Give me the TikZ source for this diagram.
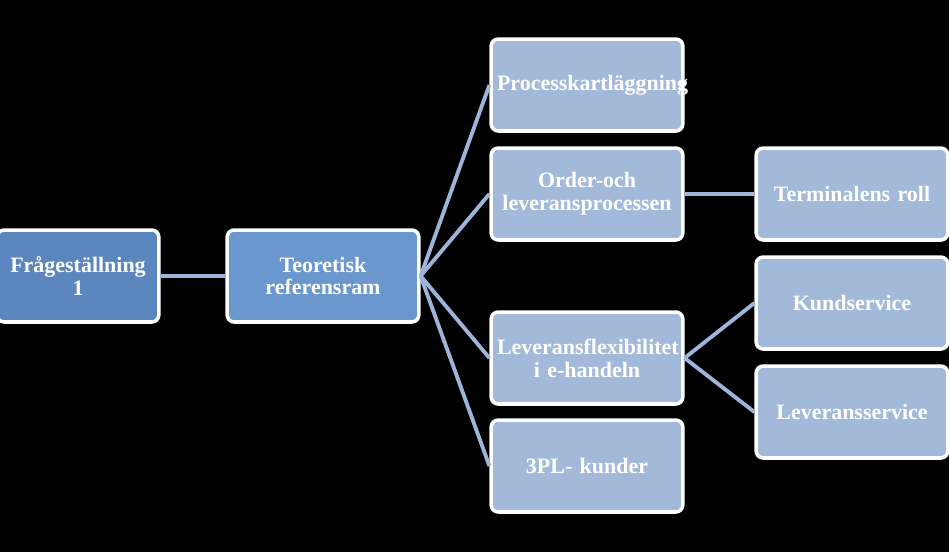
\documentclass[tikz,border=0pt]{standalone}
\usepackage{fontspec}
\setmainfont{Liberation Serif}
\usepackage{tikz}
\definecolor{darkbox}{HTML}{5B87BE}
\definecolor{midbox}{HTML}{6A98CE}
\definecolor{lightbox}{HTML}{A3B9DA}
\definecolor{linkcol}{HTML}{9DB5D8}
\tikzset{
  box/.style = {rectangle, rounded corners = 4pt, draw = white, line width = 2pt,
    minimum width = 3.7cm, minimum height = 1.84cm, text width = 3.6cm, align = center,
    text = white, font = \fontsize{12.5}{13}\selectfont\bfseries},
  link/.style = {draw = linkcol, line width = 2.2pt}
}
\begin{document}
\begin{tikzpicture}[x = 0.02cm, y = -0.02cm]
\fill[black] (0,0) rectangle (949,552);
\useasboundingbox (0,0) rectangle (949,552);
\node[box, fill = darkbox, minimum width = 3.0cm, text width = 3.0cm] (a1) at (78,276) {Frågeställning 1};
\node[box, fill = midbox] (a2) at (323,276) {Teoretisk\\referensram};
\node[box, fill = lightbox] (b1) at (587,85) {Processkartläggning};
\node[box, fill = lightbox] (b2) at (587,194) {Order-och\\leveransprocessen};
\node[box, fill = lightbox] (b3) at (587,358) {Leveransflexibilitet\\i e-handeln};
\node[box, fill = lightbox] (b4) at (587,466) {3PL- kunder};
\node[box, fill = lightbox] (c1) at (852,194) {Terminalens roll};
\node[box, fill = lightbox] (c2) at (852,303) {Kundservice};
\node[box, fill = lightbox] (c3) at (852,412) {Leveransservice};
\draw[link] (a1) -- (a2);
\draw[link] (a2.east) -- (b1.west);
\draw[link] (a2.east) -- (b2.west);
\draw[link] (a2.east) -- (b3.west);
\draw[link] (a2.east) -- (b4.west);
\draw[link] (b2) -- (c1);
\draw[link] (b3.east) -- (c2.west);
\draw[link] (b3.east) -- (c3.west);
\end{tikzpicture}
\end{document}
